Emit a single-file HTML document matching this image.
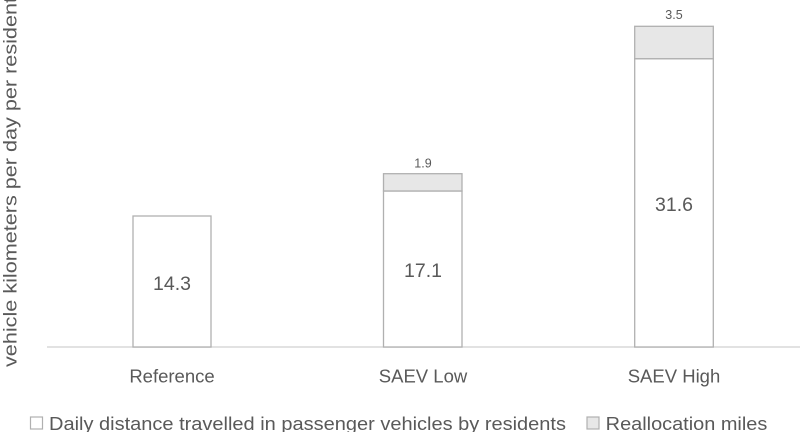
<!DOCTYPE html>
<html><head><meta charset="utf-8"><style>
html,body{margin:0;padding:0;background:#fff;}
svg{display:block;}
text{font-family:"Liberation Sans",sans-serif;fill:#595959;}
</style></head><body>
<svg width="800" height="432" viewBox="0 0 800 432" xmlns="http://www.w3.org/2000/svg">
<rect width="800" height="432" fill="#fff"/>
<!-- axis -->
<line x1="47" y1="347" x2="800" y2="347" stroke="#d9d9d9" stroke-width="1.5"/>
<!-- Reference -->
<rect x="133" y="216" width="78" height="131" fill="#fff" stroke="#b0b0b0" stroke-width="1.3"/>
<!-- SAEV Low -->
<rect x="383.5" y="191" width="78.5" height="156" fill="#fff" stroke="#b0b0b0" stroke-width="1.3"/>
<rect x="383.5" y="173.7" width="78.5" height="17.3" fill="#e7e7e7" stroke="#b0b0b0" stroke-width="1.3"/>
<!-- SAEV High -->
<rect x="634.7" y="58.7" width="78.6" height="288.3" fill="#fff" stroke="#b0b0b0" stroke-width="1.3"/>
<rect x="634.7" y="26.3" width="78.6" height="32.4" fill="#e7e7e7" stroke="#b0b0b0" stroke-width="1.3"/>
<!-- value labels -->
<text x="172" y="290" font-size="19.5" text-anchor="middle">14.3</text>
<text x="423" y="277" font-size="19.5" text-anchor="middle">17.1</text>
<text x="674" y="211" font-size="19.5" text-anchor="middle">31.6</text>
<text x="423" y="167.5" font-size="12.5" text-anchor="middle">1.9</text>
<text x="674" y="19" font-size="12.5" text-anchor="middle">3.5</text>
<!-- category labels -->
<text x="172" y="382.7" font-size="18.5" text-anchor="middle">Reference</text>
<text x="423" y="382.7" font-size="18.5" text-anchor="middle">SAEV Low</text>
<text x="674" y="382.7" font-size="18.5" text-anchor="middle">SAEV High</text>
<!-- y title -->
<text transform="translate(16.7,367) rotate(-90)" x="0" y="0" font-size="18.7" textLength="370" lengthAdjust="spacingAndGlyphs">vehicle kilometers per day per resident</text>
<!-- legend -->
<rect x="30.5" y="417" width="12" height="12" fill="#fff" stroke="#b0b0b0" stroke-width="1.2"/>
<text x="49" y="430" font-size="18.5" textLength="517" lengthAdjust="spacingAndGlyphs">Daily distance travelled in passenger vehicles by residents</text>
<rect x="587" y="417" width="12" height="12" fill="#e7e7e7" stroke="#b0b0b0" stroke-width="1.2"/>
<text x="605.7" y="430" font-size="18.5" textLength="161.6" lengthAdjust="spacingAndGlyphs">Reallocation miles</text>
</svg>
</body></html>
